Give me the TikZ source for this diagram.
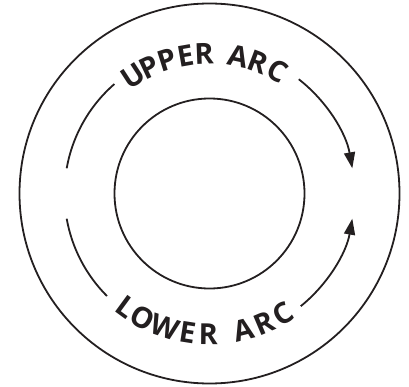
\documentclass[tikz,border=0pt]{standalone}
\usepackage{fontspec}
\setmainfont{Open Sans}
\usetikzlibrary{arrows.meta,calc}
\definecolor{ink}{RGB}{35,31,32}
\begin{document}
\begin{tikzpicture}[x=1pt,y=1pt,
  ring/.style={circle, draw=ink, line width=1.8pt, inner sep=0pt},
  arcline/.style={draw=ink, line width=1.8pt},
  arrowline/.style={arcline, -{Triangle[length=16pt,width=11pt]}},
  letter/.style={inner sep=0pt, text=ink, font=\bfseries\fontsize{29}{29}\selectfont}]
\useasboundingbox (0,0) rectangle (409,386);
\coordinate (C) at (209.5,192.5);
\node[ring, minimum size=380pt] (outer) at (C) {};
\node[ring, minimum size=190pt] (inner) at (C) {};
% arcs
\coordinate (ua1) at ($(C)+(170:145)$);
\coordinate (ua2) at ($(C)+(52:145)$);
\coordinate (la1) at ($(C)+(190:145)$);
\coordinate (la2) at ($(C)+(309:145)$);
\draw[arcline] (ua1) arc[start angle=170, end angle=131, radius=145];
\draw[arrowline] (ua2) arc[start angle=52, end angle=10, radius=145];
\draw[arcline] (la1) arc[start angle=190, end angle=225, radius=145];
\draw[arrowline] (la2) arc[start angle=309, end angle=350, radius=145];
% upper label
\foreach \ch/\a [count=\i] in {U/123, P/115.3, P/107.6, E/99.9, R/92.2, A/78, R/69.5, C/61}
  \node[letter, rotate=\a-90] (up\i) at ($(C)+(\a:140)$) {\ch};
% lower label
\foreach \ch/\a [count=\i] in {L/233.8, O/241.5, W/251.5, E/261, R/269.5, A/284, R/293, C/301.5}
  \node[letter, rotate=\a+90] (lo\i) at ($(C)+(\a:141)$) {\ch};
\end{tikzpicture}
\end{document}
